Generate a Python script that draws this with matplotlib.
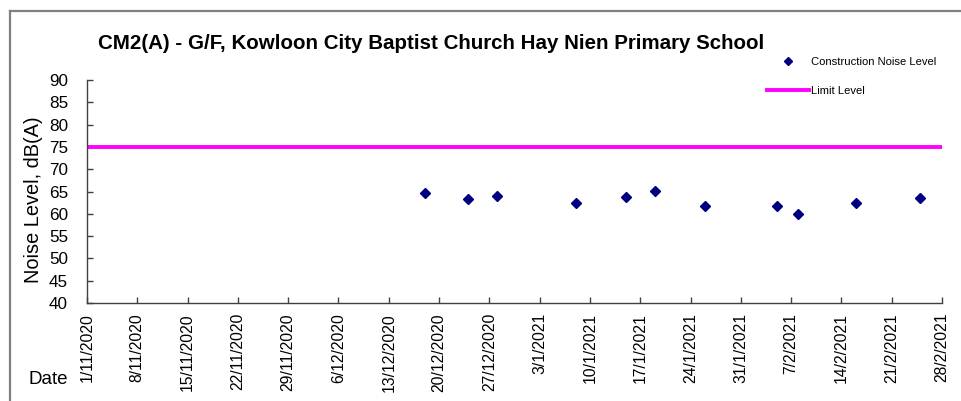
import matplotlib
matplotlib.use("Agg")
import matplotlib.pyplot as plt
from matplotlib.lines import Line2D
from datetime import datetime

plt.rcParams['font.family'] = ['Liberation Sans', 'DejaVu Sans']

# ---- data ----
dates = ["2020-12-18", "2020-12-24", "2020-12-28", "2021-01-08", "2021-01-15",
         "2021-01-19", "2021-01-26", "2021-02-05", "2021-02-08", "2021-02-16",
         "2021-02-25"]
noise = [64.7, 63.4, 63.9, 62.4, 63.7, 65.1, 61.7, 61.8, 60.0, 62.4, 63.5]
limit_level = 75
tick_labels = ["1/11/2020", "8/11/2020", "15/11/2020", "22/11/2020", "29/11/2020",
               "6/12/2020", "13/12/2020", "20/12/2020", "27/12/2020", "3/1/2021",
               "10/1/2021", "17/1/2021", "24/1/2021", "31/1/2021", "7/2/2021",
               "14/2/2021", "21/2/2021", "28/2/2021"]
y_ticks = [40, 45, 50, 55, 60, 65, 70, 75, 80, 85, 90]
title = "CM2(A) - G/F, Kowloon City Baptist Church Hay Nien Primary School"

x = [datetime.strptime(d, "%Y-%m-%d") for d in dates]
xt = [datetime.strptime(t, "%d/%m/%Y") for t in tick_labels]

fig = plt.figure(figsize=(9.61, 4.01), dpi=100)
ax = fig.add_axes([87/961, 1-303/401, (942-87)/961, (303-80)/401])

ax.axhline(limit_level, color='#FF00FF', lw=2.8, label='Limit Level', zorder=2)
ax.plot(x, noise, linestyle='none', marker='D', ms=5.6, color='#000080',
        label='Construction Noise Level', zorder=3)

ax.set_xlim(xt[0], xt[-1])
ax.set_ylim(y_ticks[0], y_ticks[-1])
ax.set_xticks(xt)
ax.set_xticklabels(tick_labels, rotation=90, fontsize=11.3)
ax.set_yticks(y_ticks)
ax.set_yticklabels([str(v) for v in y_ticks], fontsize=12.3)
ax.tick_params(axis='both', direction='in', length=4, width=1, color='#404040')
ax.tick_params(axis='x', pad=7.2)
ax.tick_params(axis='y', pad=13.7)

for s in ['top', 'right']:
    ax.spines[s].set_visible(False)
for s in ['left', 'bottom']:
    ax.spines[s].set_color('#404040')
    ax.spines[s].set_linewidth(1)

fig.text(34/961, 1-200/401, "Noise Level, dB(A)", rotation=90, ha='center',
         va='center', fontsize=14.4)
fig.text(48/961, 1-380/401, "Date", ha='center', va='center', fontsize=13.5)
fig.text(431/961, 1-49/401, title, ha='center', va='baseline', fontsize=14.8,
         fontweight='bold')

# legend
h_line, l_line = ax.get_legend_handles_labels()
order = [1, 0]
leg = fig.legend([h_line[i] for i in order], [l_line[i] for i in order],
                 loc='upper left', bbox_to_anchor=(767/961, 1-57/401),
                 frameon=False, fontsize=8.1, handlelength=3.7,
                 handletextpad=0.25, labelspacing=1.7, borderpad=0,
                 borderaxespad=0, markerscale=0.65)

# outer frame (top and left only)
fig.add_artist(Line2D([10/961, 10/961], [0, 1-11/401], transform=fig.transFigure,
                      color='#808080', lw=1.6))
fig.add_artist(Line2D([10/961, 1], [1-11/401, 1-11/401], transform=fig.transFigure,
                      color='#808080', lw=1.6))

fig.savefig("out.png", dpi=100)
